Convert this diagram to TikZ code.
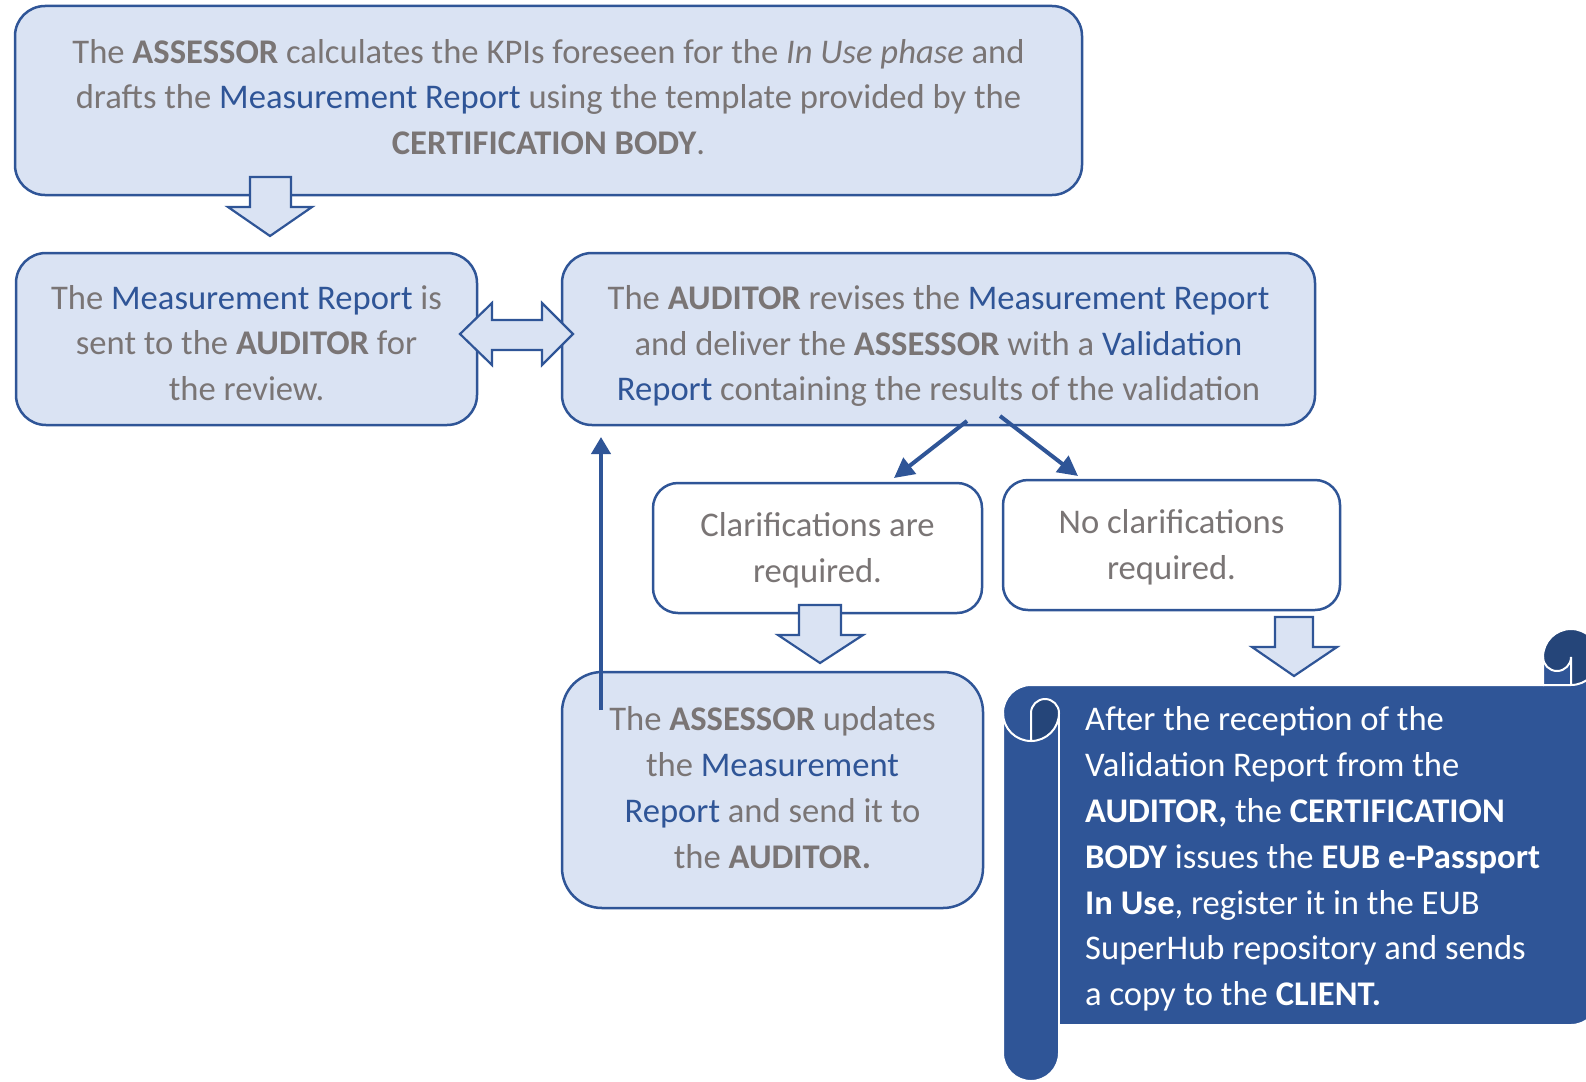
\documentclass[tikz,border=0pt]{standalone}
\usepackage{fontspec}
\setmainfont{Carlito}
\usetikzlibrary{arrows.meta}
\definecolor{bfill}{HTML}{DAE3F3}
\definecolor{bline}{HTML}{2F5597}
\definecolor{tgray}{HTML}{7A7575}
\definecolor{tblue}{HTML}{2F5597}
\definecolor{sbody}{HTML}{2F5597}
\definecolor{sdark}{HTML}{254579}
\newcommand{\blu}[1]{\textcolor{tblue}{#1}}
\begin{document}
\begin{tikzpicture}[x=1pt,y=1pt,yscale=-1,
  box/.style={draw=bline, fill=bfill, line width=2.5pt, rounded corners=30pt, inner sep=0pt},
  wbox/.style={box, fill=white, rounded corners=25pt},
  txt/.style={align=center, text=tgray, font=\fontsize{34.6}{45.8}\selectfont, inner sep=0pt},
  blockarrow/.style={draw=bline, fill=bfill, line width=2.2pt, line join=miter},
  conn/.style={draw=bline, line width=4pt, -{Triangle[length=20pt,width=20pt]}},
  sline/.style={draw=white, line width=2pt}]
\useasboundingbox (0,0) rectangle (1586,1081);

% boxes
\node[box, minimum width=1067pt, minimum height=189pt] (top) at (548.5,100.5) {};
\node[txt] (topt) at (548.5,97)
 {The \textbf{ASSESSOR} calculates the KPIs foreseen for the \textit{In Use phase} and\\
  drafts the \blu{Measurement Report} using the template provided by the\\
  \textbf{CERTIFICATION BODY}.};
\node[box, minimum width=461pt, minimum height=172pt] (sent) at (246.5,339) {};
\node[txt] (sentt) at (246.5,343)
 {The \blu{Measurement Report} is\\ sent to the \textbf{AUDITOR} for\\ the review.};
\node[box, minimum width=753pt, minimum height=172pt] (rev) at (938.5,339) {};
\node[txt] (revt) at (938.5,346)
 {The \textbf{AUDITOR} revises the \blu{Measurement Report}\\
  and deliver the \textbf{ASSESSOR} with a \blu{Validation}\\
  \blu{Report} containing the results of the validation};
\node[wbox, minimum width=329pt, minimum height=130pt] (clar) at (817.5,548) {};
\node[txt] (clart) at (817.5,550) {Clarifications are\\ required.};
\node[wbox, minimum width=337pt, minimum height=130pt] (noclar) at (1171.5,545) {};
\node[txt] (noclart) at (1171.5,547) {No clarifications\\ required.};
\node[box, rounded corners=40pt, minimum width=421pt, minimum height=236pt] (upd) at (772.5,790) {};
\node[txt] (updt) at (772.5,787.5)
 {The \textbf{ASSESSOR} updates\\ the \blu{Measurement}\\ \blu{Report} and send it to\\ the \textbf{AUDITOR.}};

% block arrows
\draw[blockarrow] (250,177) -- (291,177) -- (291,207) -- (312,207) -- (270,236) -- (228,207) -- (250,207) -- cycle;
\draw[blockarrow] (799,605) -- (841,605) -- (841,635) -- (863,635) -- (820,663) -- (778,635) -- (799,635) -- cycle;
\draw[blockarrow] (1275,617) -- (1313,617) -- (1313,647) -- (1337,647) -- (1294,676) -- (1252,647) -- (1275,647) -- cycle;
\draw[blockarrow] (460,334) -- (492,303) -- (492,320) -- (542,320) -- (542,303) -- (573,334) -- (542,365) -- (542,350) -- (492,350) -- (492,365) -- cycle;

% connectors
\coordinate (a1s) at (967,421);
\coordinate (a1e) at (894,478);
\coordinate (a2s) at (1000,416);
\coordinate (a2e) at (1078,476);
\coordinate (a3s) at (601,710);
\coordinate (a3e) at (601,437);
\draw[conn] (a1s) -- (a1e);
\draw[conn] (a2s) -- (a2e);
\draw[conn, -{Triangle[length=17pt,width=19pt]}] (a3s) -- (a3e);

% scroll
\fill[sbody] (1003,713) arc[start angle=180, delta angle=90, radius=28] -- (1543,685) -- (1543,657)
  arc[start angle=180, delta angle=180, radius=28] -- (1599,997) arc[start angle=0, delta angle=90, radius=28]
  -- (1059,1025) -- (1059,1053) arc[start angle=0, delta angle=180, radius=28] -- cycle;
\fill[sdark] (1031,741) arc[start angle=90, delta angle=-90, radius=28] arc[start angle=0, delta angle=-180, radius=14] -- cycle;
\fill[sdark] (1571,685) arc[start angle=90, delta angle=-270, radius=28] arc[start angle=180, delta angle=-180, radius=14] -- cycle;
\draw[sline] (1003,713) arc[start angle=180, delta angle=90, radius=28] -- (1543,685) -- (1543,657)
  arc[start angle=180, delta angle=180, radius=28] -- (1599,997) arc[start angle=0, delta angle=90, radius=28]
  -- (1059,1025) -- (1059,1053) arc[start angle=0, delta angle=180, radius=28] -- cycle;
\draw[sline] (1543,685) -- (1571,685) arc[start angle=90, delta angle=-90, radius=28];
\draw[sline] (1571,685) -- (1571,657) arc[start angle=0, delta angle=180, radius=14];
\draw[sline] (1031,741) -- (1031,713) arc[start angle=180, delta angle=180, radius=14] arc[start angle=0, delta angle=180, radius=28];
\draw[sline] (1059,713) -- (1059,1025);
\node[anchor=west, align=left, text=white, inner sep=0pt, font=\fontsize{34.6}{45.8}\selectfont] (final) at (1085,859)
 {After the reception of the\\ Validation Report from the\\ \textbf{AUDITOR,} the \textbf{CERTIFICATION}\\
  \textbf{BODY} issues the \textbf{EUB e-Passport}\\ \textbf{In Use}, register it in the EUB\\
  SuperHub repository and sends\\ a copy to the \textbf{CLIENT.}};
\end{tikzpicture}
\end{document}
